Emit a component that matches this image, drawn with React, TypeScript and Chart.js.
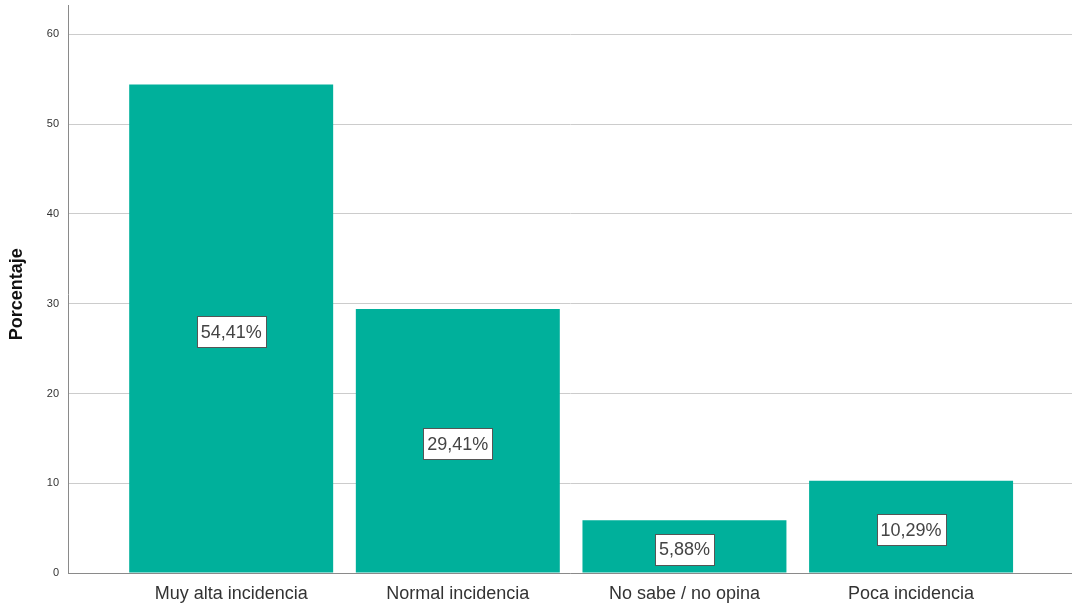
import React, { useEffect, useRef } from "react";
import { Chart, registerables } from "chart.js";

Chart.register(...registerables);

const categories = ["Muy alta incidencia", "Normal incidencia", "No sabe / no opina", "Poca incidencia"];
const percentages = [54.41, 29.41, 5.88, 10.29];
const valueLabels = ["54,41%", "29,41%", "5,88%", "10,29%"];
const yTicks = [0, 10, 20, 30, 40, 50, 60];

const FONT = "'Liberation Sans', Arial, sans-serif";

const boxLabels = {
  id: "boxLabels",
  afterDatasetsDraw(chart: any) {
    const ctx = chart.ctx;
    const meta = chart.getDatasetMeta(0);
    ctx.save();
    ctx.font = `18px ${FONT}`;
    ctx.textAlign = "center";
    ctx.textBaseline = "middle";
    meta.data.forEach((bar: any, i: number) => {
      const cx = bar.x;
      const cy = (bar.y + bar.base) / 2 + 3;
      const text = valueLabels[i];
      const w = Math.round(ctx.measureText(text).width + 8);
      const h = 31;
      const left = Math.round(cx - w / 2) + 0.5;
      const top = Math.round(cy - h / 2) + 0.5;
      ctx.fillStyle = "#ffffff";
      ctx.fillRect(left, top, w, h);
      ctx.strokeStyle = "#555555";
      ctx.lineWidth = 1;
      ctx.strokeRect(left, top, w, h);
      ctx.fillStyle = "#444444";
      ctx.fillText(text, cx, cy + 1);
    });
    ctx.restore();
  },
};

// extends the y-axis line a little above the plot area, as in the reference
const axisExtension = {
  id: "axisExtension",
  afterDraw(chart: any) {
    const ctx = chart.ctx;
    const x = Math.round(chart.chartArea.left) + 0.5;
    ctx.save();
    ctx.strokeStyle = "#8a8a8a";
    ctx.lineWidth = 1;
    ctx.beginPath();
    ctx.moveTo(x, 5);
    ctx.lineTo(x, chart.chartArea.top);
    ctx.stroke();
    ctx.restore();
  },
};

export default function App() {
  const ref = useRef<HTMLCanvasElement>(null);
  useEffect(() => {
    document.body.style.margin = "0";
    const chart = new Chart(ref.current!, {
      type: "bar",
      data: {
        datasets: [
          {
            data: percentages.map((v, i) => ({ x: i, y: v })),
            backgroundColor: "#00b09b",
            borderWidth: 0,
            barPercentage: 0.9,
            categoryPercentage: 1,
          },
        ],
      },
      plugins: [boxLabels, axisExtension],
      options: {
        animation: false,
        responsive: false,
        layout: { padding: { top: 0, right: 0, left: 0, bottom: 0 } },
        plugins: { legend: { display: false }, tooltip: { enabled: false } },
        scales: {
          x: {
            type: "linear",
            offset: false,
            min: -0.72,
            max: 3.71,
            grid: { display: false, drawTicks: false },
            border: { display: true, color: "#8a8a8a", width: 1 },
            ticks: {
              stepSize: 1,
              includeBounds: false,
              autoSkip: false,
              maxRotation: 0,
              padding: 10,
              color: "#333333",
              font: { family: FONT, size: 18 },
              callback: (v: any) => (Number.isInteger(v) && categories[v] ? categories[v] : ""),
            },
            afterFit: (s: any) => {
              s.height = 37;
            },
          },
          y: {
            type: "linear",
            min: 0,
            max: 62.1,
            afterBuildTicks: (s: any) => {
              s.ticks = yTicks.map((v) => ({ value: v }));
            },
            grid: { color: "#cccccc", drawTicks: false, lineWidth: 1 },
            border: { display: true, color: "#8a8a8a", width: 1 },
            ticks: {
              padding: 9,
              color: "#333333",
              font: { family: FONT, size: 11 },
            },
            title: {
              display: true,
              text: "Porcentaje",
              color: "#111111",
              font: { family: FONT, size: 18, weight: "bold" },
              padding: { top: 6, bottom: 0 },
            },
            afterFit: (s: any) => {
              s.width = 68;
            },
          },
        },
      },
    });
    return () => chart.destroy();
  }, []);
  return (
    <div style={{ width: 1072, height: 610, background: "#fff" }}>
      <canvas ref={ref} width={1072} height={610} style={{ display: "block" }} />
    </div>
  );
}
